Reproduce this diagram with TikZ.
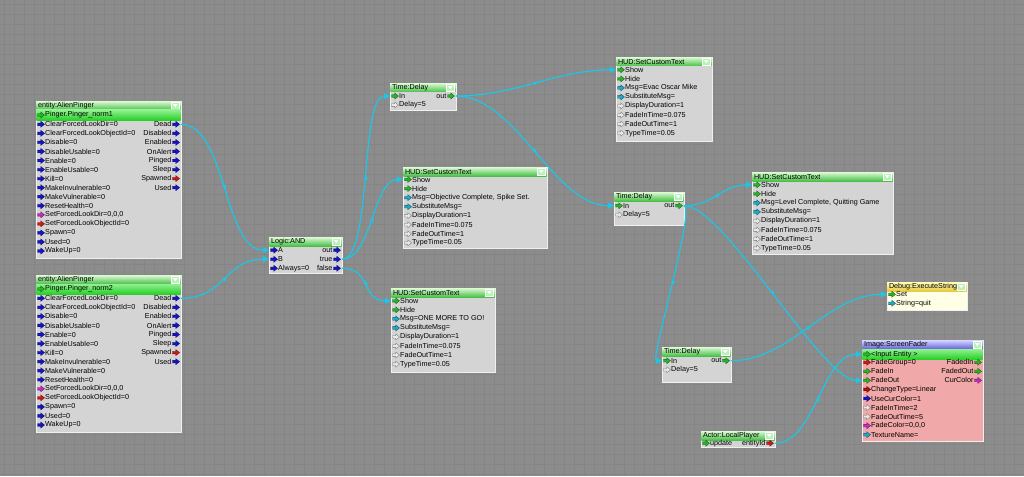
\documentclass[tikz,border=0pt]{standalone}
\usepackage{fontspec}
\setmainfont{Liberation Sans}
\usetikzlibrary{arrows.meta,decorations.markings}

\definecolor{bg}{HTML}{8C8C8C}
\definecolor{gridc}{HTML}{858585}
\definecolor{boxg}{HTML}{D4D4D4}
\definecolor{wire}{HTML}{1CC6E6}
\definecolor{pblue}{HTML}{1414C8}
\definecolor{pmag}{HTML}{C828C8}
\definecolor{pred}{HTML}{D01818}
\definecolor{pdred}{HTML}{A81010}
\definecolor{pgreen}{HTML}{28B428}
\definecolor{pcyan}{HTML}{20A8C4}
\definecolor{phol}{HTML}{E8E8E8}
\definecolor{tgtop}{HTML}{D8F8D0}
\definecolor{tgbot}{HTML}{48C048}
\definecolor{rowtop}{HTML}{90F090}
\definecolor{rowbot}{HTML}{28D028}
\definecolor{fadpink}{HTML}{F0A8A8}
\definecolor{dbgbody}{HTML}{FFFFE6}
\definecolor{dbgtop}{HTML}{FFFFB8}
\definecolor{dbgbot}{HTML}{E8C840}
\definecolor{ftop}{HTML}{D0D0FF}
\definecolor{fbot}{HTML}{6464D8}

\tikzset{
  lbl/.style={inner sep=0pt, font=\fontsize{7.2}{8}\selectfont, text=black},
  gbody/.style={fill=boxg},
  pbody/.style={fill=fadpink},
  ybody/.style={fill=dbgbody},
  gtitle/.style={top color=tgtop, bottom color=tgbot},
  btitle/.style={top color=ftop, bottom color=fbot},
  ytitle/.style={top color=dbgtop, bottom color=dbgbot},
  wirel/.style={draw=wire, line width=1.2pt, -{Triangle[length=6pt,width=6pt]},
    postaction={decorate},
    decoration={markings, mark=at position 0.5 with {\fill[wire] (-2.2,-2) -- (2.2,0) -- (-2.2,2) -- cycle;}}},
}

% port arrow icon: x (left), y (centre), colour
\newcommand\portarrow[3]{%
  \filldraw[fill=#3, draw=#3!50!black, line width=0.35pt]
    (#1,#2+1.3) -- ++(3.3,0) -- ++(0,1.7) -- ++(3.7,-3) -- ++(-3.7,-3) -- ++(0,1.7) -- ++(-3.3,0) -- cycle;}

% box: name, x1, y1, x2, y2, title, body style, title style
\newcommand\flowbox[8]{%
  \path[#7, draw=white!88!gray, line width=0.8pt] (#2,#3) rectangle (#4,#5);
  \shade[#8] (#2+0.4,#3+0.4) rectangle (#4-0.4,#3+9);
  \node[lbl, anchor=west] (#1-t) at (#2+1.8,#3+4.8) {#6};
  \filldraw[fill=white!75!green!90!gray, draw=white, line width=0.4pt] (#4-9.5,#3+1.3) rectangle (#4-2,#3+8);
  \fill[white] (#4-8,#3+3.2) -- (#4-3.5,#3+3.2) -- (#4-5.75,#3+6.2) -- cycle;
}

% green entity row: name, x1, y, x2, text
\newcommand\greenrow[5]{%
  \shade[top color=rowtop, bottom color=rowbot] (#2+0.4,#3) rectangle (#4-0.4,#3+10);
  \portarrow{#2+1.5}{#3+5}{pgreen}
  \node[lbl, anchor=west] (#1-g) at (#2+9,#3+5) {#5};
  \coordinate (#1-gp) at (#2,#3+5);
}

% inputs: name, x1, y0, list colour/text
\newcommand\inrows[4]{%
  \foreach \s/\t [count=\i] in {#4} {
    \pgfmathsetmacro\yy{#3+(\i-1)*9.05}
    \portarrow{#2+1.5}{\yy}{\s}
    \node[lbl, anchor=west] (#1-i\i) at (#2+9,\yy) {\t};
    \coordinate (#1-ip\i) at (#2,\yy);
  }}

% outputs: name, x2, y0, list colour/text
\newcommand\outrows[4]{%
  \foreach \s/\t [count=\i] in {#4} {
    \pgfmathsetmacro\yy{#3+(\i-1)*9.05}
    \portarrow{#2-8.5}{\yy}{\s}
    \node[lbl, anchor=east] (#1-o\i) at (#2-9.4,\yy) {\t};
    \coordinate (#1-op\i) at (#2,\yy);
  }}

\begin{document}
\begin{tikzpicture}[x=1pt,y=-1pt]
\useasboundingbox (0,0) rectangle (1024,476);
\fill[bg] (0,0) rectangle (1024,476);
\foreach \g in {4,14,...,1024} \draw[gridc,line width=0.6pt] (\g,0) -- (\g,476);
\foreach \g in {4,14,...,476} \draw[gridc,line width=0.6pt] (0,\g) -- (1024,\g);

% ---- entity:AlienPinger 1
\flowbox{pa}{36}{101}{181}{258}{entity:AlienPinger}{gbody}{gtitle}
\greenrow{pa}{36}{110}{181}{Pinger.Pinger\_norm1}
\inrows{pa}{36}{124.3}{pblue/ClearForcedLookDir=0, pblue/ClearForcedLookObjectId=0, pblue/Disable=0, pblue/DisableUsable=0, pblue/Enable=0, pblue/EnableUsable=0, pblue/Kill=0, pblue/MakeInvulnerable=0, pblue/MakeVulnerable=0, pblue/ResetHealth=0, pmag/{SetForcedLookDir=0,0,0}, pred/SetForcedLookObjectId=0, pblue/Spawn=0, pblue/Used=0, pblue/WakeUp=0}
\outrows{pa}{181}{124.3}{pblue/Dead, pblue/Disabled, pblue/Enabled, pblue/OnAlert, pblue/Pinged, pblue/Sleep, pred/Spawned, pblue/Used}

% ---- entity:AlienPinger 2
\flowbox{pb}{36}{275}{181}{432}{entity:AlienPinger}{gbody}{gtitle}
\greenrow{pb}{36}{284}{181}{Pinger.Pinger\_norm2}
\inrows{pb}{36}{298.3}{pblue/ClearForcedLookDir=0, pblue/ClearForcedLookObjectId=0, pblue/Disable=0, pblue/DisableUsable=0, pblue/Enable=0, pblue/EnableUsable=0, pblue/Kill=0, pblue/MakeInvulnerable=0, pblue/MakeVulnerable=0, pblue/ResetHealth=0, pmag/{SetForcedLookDir=0,0,0}, pred/SetForcedLookObjectId=0, pblue/Spawn=0, pblue/Used=0, pblue/WakeUp=0}
\outrows{pb}{181}{298.3}{pblue/Dead, pblue/Disabled, pblue/Enabled, pblue/OnAlert, pblue/Pinged, pblue/Sleep, pred/Spawned, pblue/Used}

% ---- Logic:AND
\flowbox{and}{269}{237}{342}{273}{Logic:AND}{gbody}{gtitle}
\inrows{and}{269}{250.2}{pblue/A, pblue/B, pblue/Always=0}
\outrows{and}{342}{250.2}{pblue/out, pblue/true, pblue/false}

% ---- Time:Delay 1
\flowbox{tda}{390}{83}{456}{110}{Time:Delay}{gbody}{gtitle}
\inrows{tda}{390}{96}{pgreen/In, phol/Delay=5}
\outrows{tda}{456}{96}{pgreen/out}

% ---- HUD 1
\flowbox{hua}{616}{57}{712}{141}{HUD:SetCustomText}{gbody}{gtitle}
\inrows{hua}{616}{69.8}{pgreen/Show, pgreen/Hide, pcyan/Msg=Evac Oscar Mike, pcyan/SubstituteMsg=, phol/DisplayDuration=1, phol/FadeInTime=0.075, phol/FadeOutTime=1, phol/TypeTime=0.05}

% ---- HUD 2
\flowbox{hub}{403}{167}{547}{248}{HUD:SetCustomText}{gbody}{gtitle}
\inrows{hub}{403}{179.5}{pgreen/Show, pgreen/Hide, pcyan/{Msg=Objective Complete, Spike Set.}, pcyan/SubstituteMsg=, phol/DisplayDuration=1, phol/FadeInTime=0.075, phol/FadeOutTime=1, phol/TypeTime=0.05}

% ---- HUD 3
\flowbox{huc}{391}{288}{495}{372}{HUD:SetCustomText}{gbody}{gtitle}
\inrows{huc}{391}{300.8}{pgreen/Show, pgreen/Hide, pcyan/Msg=ONE MORE TO GO!, pcyan/SubstituteMsg=, phol/DisplayDuration=1, phol/FadeInTime=0.075, phol/FadeOutTime=1, phol/TypeTime=0.05}

% ---- Time:Delay 2
\flowbox{tdb}{614}{192}{684}{225}{Time:Delay}{gbody}{gtitle}
\inrows{tdb}{614}{205.7}{pgreen/In, phol/Delay=5}
\outrows{tdb}{684}{205.7}{pgreen/out}

% ---- HUD 4
\flowbox{hud}{752}{172}{893}{254}{HUD:SetCustomText}{gbody}{gtitle}
\inrows{hud}{752}{184.8}{pgreen/Show, pgreen/Hide, pcyan/{Msg=Level Complete, Quitting Game}, pcyan/SubstituteMsg=, phol/DisplayDuration=1, phol/FadeInTime=0.075, phol/FadeOutTime=1, phol/TypeTime=0.05}

% ---- Time:Delay 3
\flowbox{tdc}{662}{347}{731}{382}{Time:Delay}{gbody}{gtitle}
\inrows{tdc}{662}{360.7}{pgreen/In, phol/Delay=5}
\outrows{tdc}{731}{360.7}{pgreen/out}

% ---- Debug:ExecuteString
\flowbox{dbg}{887}{282}{967}{310}{Debug:ExecuteString}{ybody}{ytitle}
\inrows{dbg}{887}{294.3}{pgreen/Set, pcyan/String=quit}

% ---- Image:ScreenFader
\flowbox{fad}{862}{340}{983}{441}{Image:ScreenFader}{pbody}{btitle}
\greenrow{fad}{862}{349.2}{983}{<Input Entity >}
\inrows{fad}{862}{362.3}{pred/FadeGroup=0, pgreen/FadeIn, pgreen/FadeOut, pdred/ChangeType=Linear, pblue/UseCurColor=1, phol/FadeInTime=2, phol/FadeOutTime=5, pmag/{FadeColor=0,0,0}, pcyan/TextureName=}
\outrows{fad}{983}{362.3}{pgreen/FadedIn, pgreen/FadedOut, pmag/CurColor}

% ---- Actor:LocalPlayer
\flowbox{act}{701}{431}{775}{447.5}{Actor:LocalPlayer}{gbody}{gtitle}
\inrows{act}{701}{443.2}{pgreen/update}
\outrows{act}{775}{443.2}{pred/entityId}

% ---- connectors
\draw[wirel] (pa-op1) .. controls +(45,0) and +(-45,0) .. (and-ip1);
\draw[wirel] (pb-op1) .. controls +(45,0) and +(-45,0) .. (and-ip2);
\draw[wirel] (and-op2) .. controls +(30,0) and +(-30,0) .. (tda-ip1);
\draw[wirel] (and-op2) .. controls +(30,0) and +(-30,0) .. (hub-ip1);
\draw[wirel] (and-op3) .. controls +(30,0) and +(-30,0) .. (huc-ip1);
\draw[wirel] (tda-op1) .. controls +(60,0) and +(-60,0) .. (hua-ip1);
\draw[wirel] (tda-op1) .. controls +(60,0) and +(-60,0) .. (tdb-ip1);
\draw[wirel] (tdb-op1) .. controls +(30,0) and +(-30,0) .. (hud-ip1);
\draw[wirel] (tdb-op1) .. controls +(12,0) and +(-12,0) .. (tdc-ip1);
\draw[wirel] (tdb-op1) .. controls +(40,0) and +(-40,0) .. (fad-ip3);
\draw[wirel] (tdc-op1) .. controls +(60,0) and +(-60,0) .. (dbg-ip1);
\draw[wirel] (act-op1) .. controls +(40,0) and +(-40,0) .. (fad-gp);
\end{tikzpicture}
\end{document}
